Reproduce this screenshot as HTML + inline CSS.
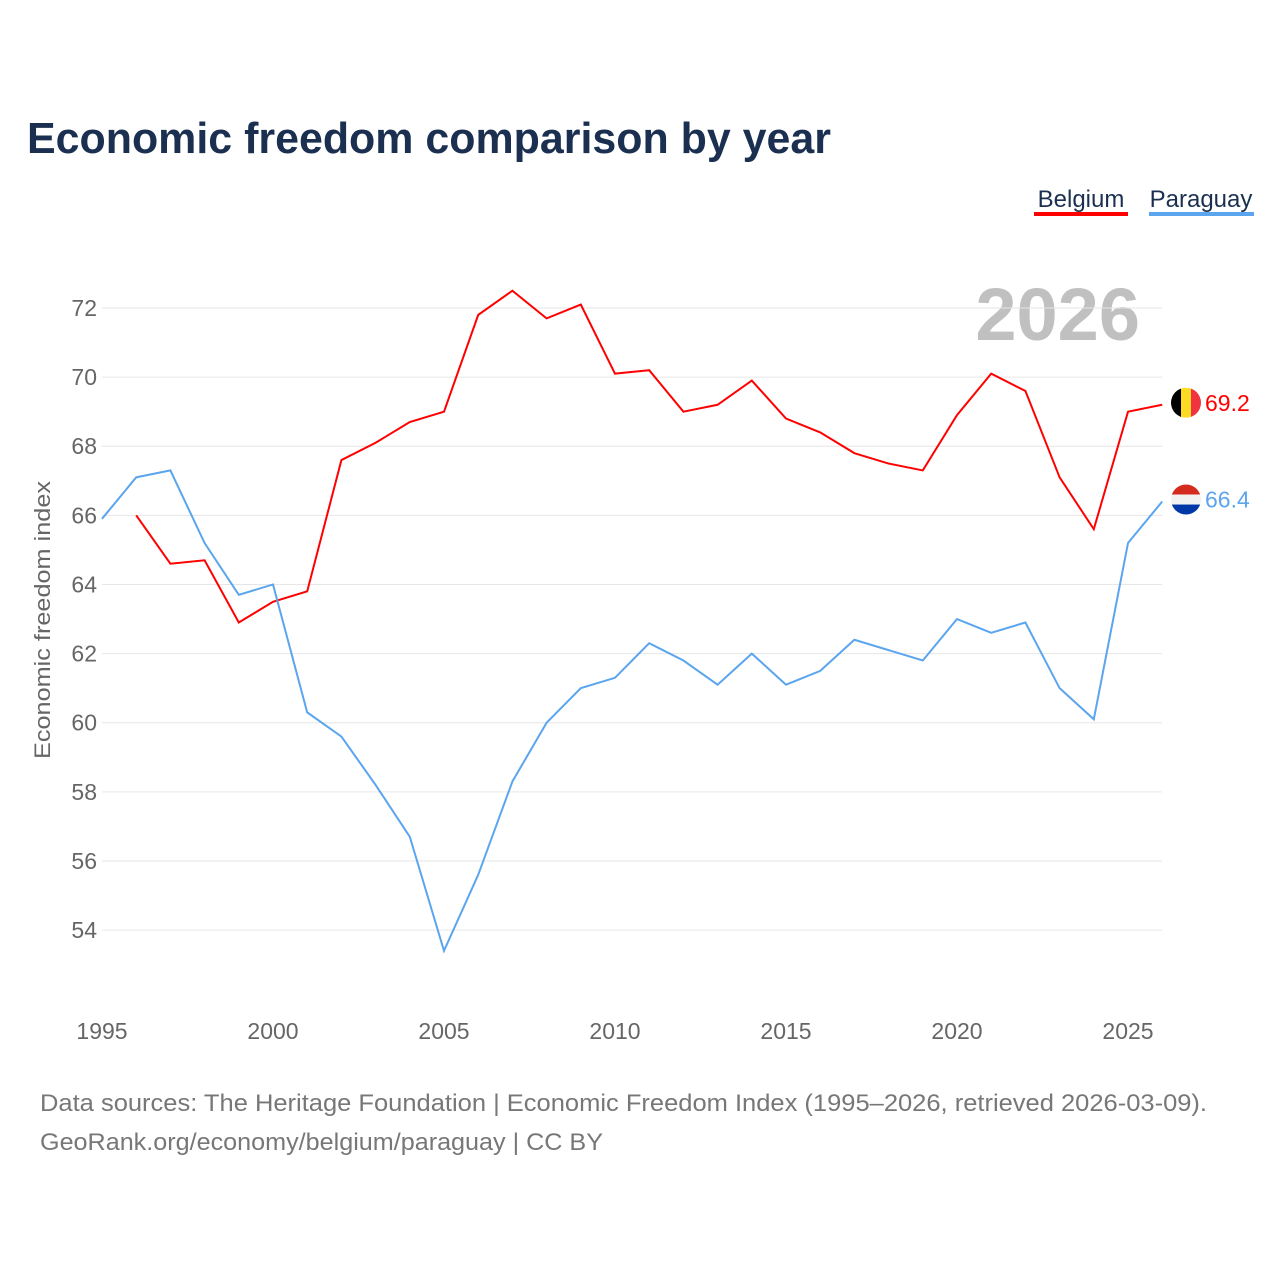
<!DOCTYPE html>
<html><head><meta charset="utf-8"><style>
html,body{margin:0;padding:0;background:#fff;width:1280px;height:1280px;overflow:hidden}
svg{display:block;font-family:"Liberation Sans",sans-serif}
</style></head><body>
<svg id="chart" width="1280" height="1280">
<text x="27" y="153" font-size="44" font-weight="bold" fill="#1b3050" textLength="804" lengthAdjust="spacingAndGlyphs">Economic freedom comparison by year</text>
<g><text x="1081" y="207" font-size="24" fill="#1b3050" text-anchor="middle">Belgium</text><rect x="1034" y="212" width="94" height="4" fill="#ff0000"/></g>
<g><text x="1201" y="207" font-size="24" fill="#1b3050" text-anchor="middle">Paraguay</text><rect x="1149" y="212" width="105" height="4" fill="#5aa5ee"/></g>
<text x="1140" y="340" font-size="74" font-weight="bold" fill="#c0c0c0" text-anchor="end">2026</text>
<text transform="translate(50,620) rotate(-90)" font-size="22" fill="#666" text-anchor="middle" textLength="278" lengthAdjust="spacingAndGlyphs">Economic freedom index</text>
<g id="grid"></g><g id="yticks"></g><g id="xticks"></g><g id="lines"></g><g id="ends"></g>
<text x="40" y="1111" font-size="24" fill="#777" textLength="1167" lengthAdjust="spacingAndGlyphs">Data sources: The Heritage Foundation | Economic Freedom Index (1995–2026, retrieved 2026-03-09).</text>
<text x="40" y="1150" font-size="24" fill="#777" textLength="563" lengthAdjust="spacingAndGlyphs">GeoRank.org/economy/belgium/paraguay | CC BY</text>
</svg>
<script>
const years=[1995,1996,1997,1998,1999,2000,2001,2002,2003,2004,2005,2006,2007,2008,2009,2010,2011,2012,2013,2014,2015,2016,2017,2018,2019,2020,2021,2022,2023,2024,2025,2026];
const belgium=[null,66.0,64.6,64.7,62.9,63.5,63.8,67.6,68.1,68.7,69.0,71.8,72.5,71.7,72.1,70.1,70.2,69.0,69.2,69.9,68.8,68.4,67.8,67.5,67.3,68.9,70.1,69.6,67.1,65.6,69.0,69.2];
const paraguay=[65.9,67.1,67.3,65.2,63.7,64.0,60.3,59.6,58.2,56.7,53.4,55.6,58.3,60.0,61.0,61.3,62.3,61.8,61.1,62.0,61.1,61.5,62.4,62.1,61.8,63.0,62.6,62.9,61.0,60.1,65.2,66.4];
const yTicks=[54,56,58,60,62,64,66,68,70,72];
const xTicks=[1995,2000,2005,2010,2015,2020,2025];
const NS="http://www.w3.org/2000/svg";
const X=y=>102+(y-1995)*34.2;
const Y=v=>308+(72-v)*34.56;
function mk(t,a,p){const e=document.createElementNS(NS,t);for(const k in a)e.setAttribute(k,a[k]);p.appendChild(e);return e;}
const grid=document.getElementById('grid'),yt=document.getElementById('yticks'),xt=document.getElementById('xticks');
yTicks.forEach(v=>{
 const l=mk('line',{x1:102,x2:1162,y1:Y(v),y2:Y(v),stroke:'#e6e6e6','stroke-width':1},grid);
 
 
 const t=mk('text',{x:97,y:Y(v)+8,'font-size':23,fill:'#666','text-anchor':'end'},yt);t.textContent=v;
 
 
});
xTicks.forEach(v=>{
 const t=mk('text',{x:X(v),y:1039,'font-size':23,fill:'#666','text-anchor':'middle'},xt);t.textContent=v;
 
 
});
function line(vals,color,name){
 let d='';vals.forEach((v,i)=>{if(v==null)return;d+=(d?'L':'M')+X(years[i])+','+Y(v);});
 const p=mk('path',{d:d,fill:'none',stroke:color,'stroke-width':2},document.getElementById('lines'));
 
 
}
line(belgium,'#ff0000','belgium-line');
line(paraguay,'#5aa5ee','paraguay-line');
const ends=document.getElementById('ends');
function flag(v,cols,name,label,color){
 const cx=1186,cy=Y(v)-2;
 const g=mk('g',{},ends);
 
 
 const id='c'+name;
 const cp=mk('clipPath',{id:id},g);mk('circle',{cx:cx,cy:cy,r:15},cp);
 const gg=mk('g',{'clip-path':'url(#'+id+')'},g);
 cols.forEach((c,i)=>{
  if(cols.vertical) mk('rect',{x:cx-15+i*10,y:cy-15,width:10,height:30,fill:c},gg);
  else mk('rect',{x:cx-15,y:cy-15+i*10,width:30,height:10,fill:c},gg);
 });
 const t=mk('text',{x:1205,y:cy+8,'font-size':23,fill:color},g);t.textContent=label;
}
const bc=['#000','#fdda24','#ef3340'];bc.vertical=true;
flag(belgium[belgium.length-1],bc,'belgium-end-label',belgium[belgium.length-1].toFixed(1),'#ff0000');
const pc=['#d52b1e','#f2f2f2','#0038a8'];
flag(paraguay[paraguay.length-1],pc,'paraguay-end-label',paraguay[paraguay.length-1].toFixed(1),'#5aa5ee');
</script>
</body></html>
